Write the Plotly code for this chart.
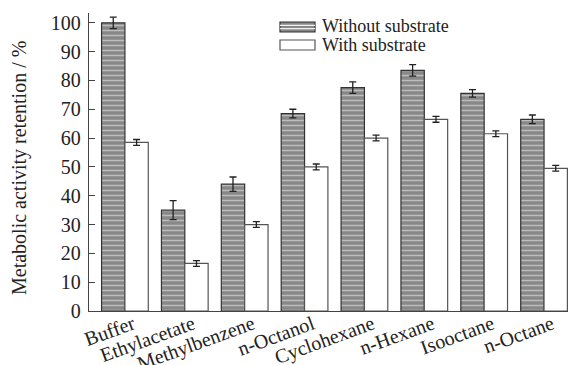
import plotly.graph_objects as go

# Metabolic activity retention of cells after exposure to organic solvents
solvents = ["Buffer", "Ethylacetate", "Methylbenzene", "n-Octanol",
            "Cyclohexane", "n-Hexane", "Isooctane", "n-Octane"]
without_substrate = [100, 35, 44, 68.5, 77.5, 83.5, 75.5, 66.5]
without_err = [2, 3.3, 2.5, 1.5, 2, 2, 1.3, 1.5]
with_substrate = [58.5, 16.5, 30, 50, 60, 66.5, 61.5, 49.5]
with_err = [1, 1, 1, 1, 1, 1, 1, 1]
y_ticks = [0, 10, 20, 30, 40, 50, 60, 70, 80, 90, 100]

FONT = "Liberation Serif, Times New Roman, serif"
INK = "#222222"
FS = 20

fig = go.Figure()
fig.add_trace(go.Bar(
    x=solvents, y=without_substrate, name="Without substrate",
    marker=dict(color="#888888",
                pattern=dict(shape="-", bgcolor="#888888", fgcolor="#f2f2f2",
                             size=5, solidity=0.3),
                line=dict(color="#333333", width=1.2)),
    error_y=dict(type="data", array=without_err, color=INK, thickness=1.3, width=3.5),
    showlegend=False,
))
fig.add_trace(go.Bar(
    x=solvents, y=with_substrate, name="With substrate",
    marker=dict(color="white", line=dict(color="#555555", width=1.2)),
    error_y=dict(type="data", array=with_err, color=INK, thickness=1.3, width=3.5),
    showlegend=False,
))

W, H = 568, 365
ml, mr, mt, mb = 89, 0, 13, 54
pw, ph = W - ml - mr, H - mt - mb


def px_to_paper(x, y):
    return (x - ml) / pw, 1 - (y - mt) / ph


# Legend drawn by hand so the swatches are wide rectangles
shapes = []
sx0, sx1 = 280, 315
for (ya, yb, striped) in [(22, 32, True), (40, 50, False)]:
    x0p, y0p = px_to_paper(sx0, yb)
    x1p, y1p = px_to_paper(sx1, ya)
    shapes.append(dict(type="rect", xref="paper", yref="paper",
                       x0=x0p, x1=x1p, y0=y0p, y1=y1p,
                       fillcolor="#888888" if striped else "white",
                       line=dict(color="#333333" if striped else "#555555", width=1.2)))
    if striped:
        for yy in [ya + 3.3, ya + 6.7]:
            _, yp = px_to_paper(0, yy)
            shapes.append(dict(type="line", xref="paper", yref="paper",
                               x0=x0p, x1=x1p, y0=yp, y1=yp,
                               line=dict(color="#f2f2f2", width=1.2)))

annotations = []
for (label, yc) in [("Without substrate", 26), ("With substrate", 45)]:
    xp, yp = px_to_paper(320, yc)
    annotations.append(dict(text=label, xref="paper", yref="paper", x=xp, y=yp,
                            xanchor="left", yanchor="middle", showarrow=False,
                            font=dict(family=FONT, size=18, color=INK)))

# Y-axis title placed as a rotated annotation near the left edge
tx, ty = px_to_paper(19, 168)
annotations.append(dict(text="Metabolic activity retention / %", xref="paper", yref="paper",
                        x=tx, y=ty, xanchor="center", yanchor="middle", textangle=-90,
                        showarrow=False, font=dict(family=FONT, size=FS, color=INK)))

fig.update_layout(
    width=W, height=H,
    margin=dict(l=ml, r=mr, t=mt, b=mb, pad=0),
    paper_bgcolor="white", plot_bgcolor="white",
    barmode="group", bargap=0.22, bargroupgap=0,
    font=dict(family=FONT, size=FS, color=INK),
    shapes=shapes, annotations=annotations,
    xaxis=dict(range=[-0.6, 7.4], showline=True, linecolor="#444444", linewidth=1.3,
               ticks="", tickangle=-20, ticklabelshift=8, ticklabelstandoff=-7,
               showgrid=False, zeroline=False, automargin=False,
               tickfont=dict(family=FONT, size=FS, color=INK)),
    yaxis=dict(range=[0, 103.4], tickvals=y_ticks, showline=True, linecolor="#444444",
               linewidth=1.3, ticks="inside", ticklen=6, tickcolor="#444444",
               ticklabelstandoff=3,
               showgrid=False, zeroline=False, automargin=False,
               tickfont=dict(family=FONT, size=FS, color=INK)),
)

fig.write_html("out.html")
